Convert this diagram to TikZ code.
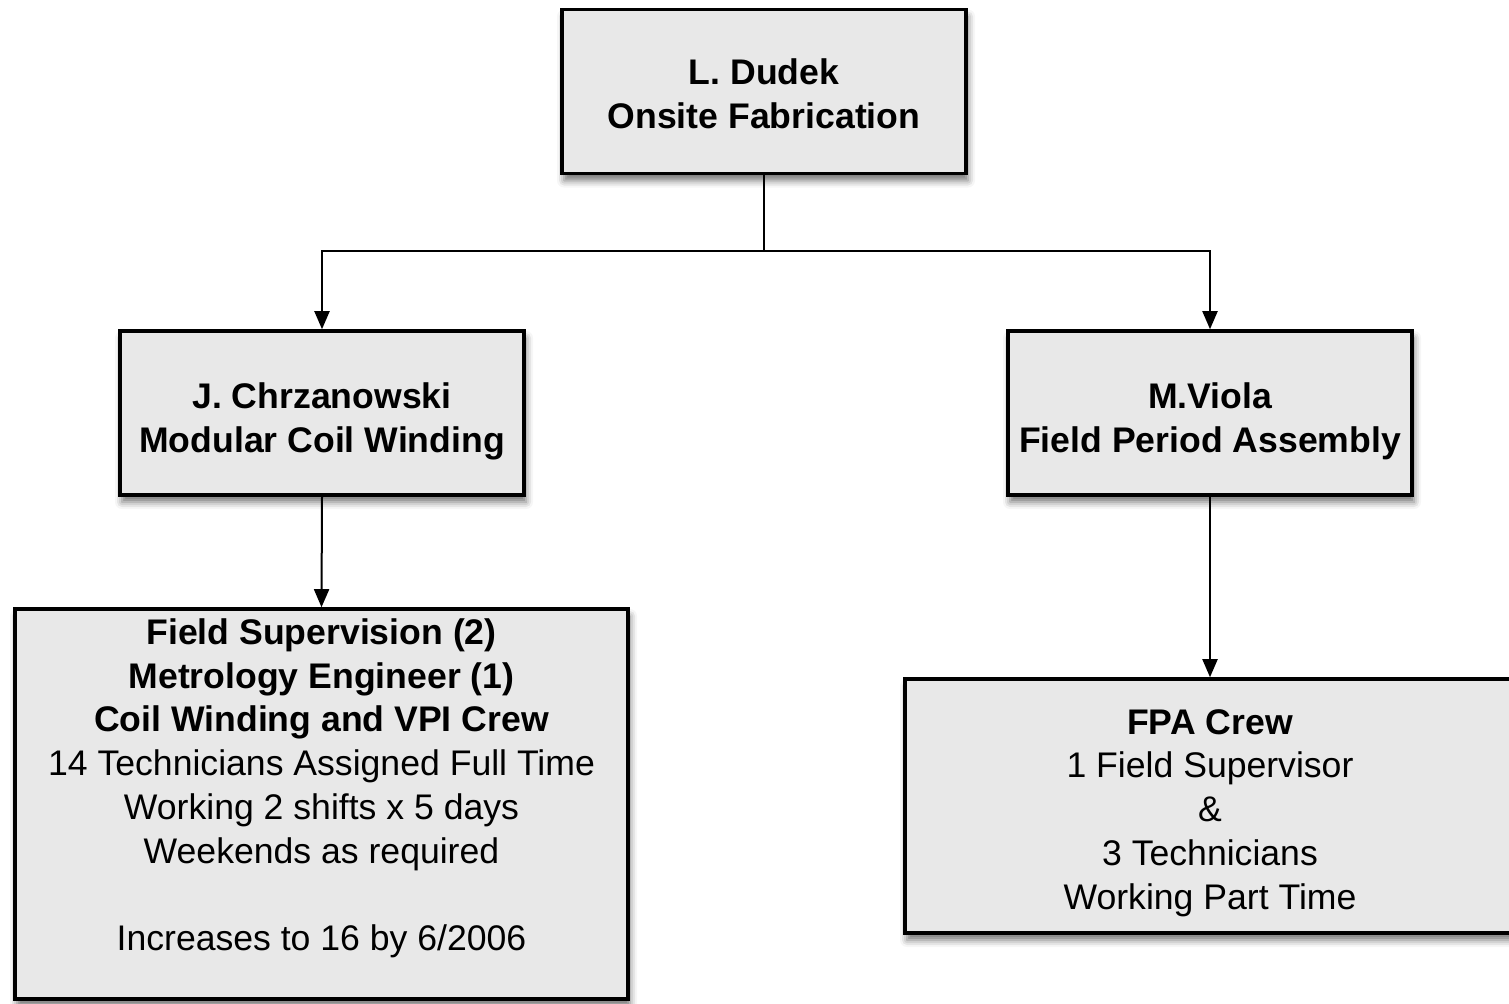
\documentclass[tikz,border=0pt]{standalone}
\usepackage{fontspec}
\setmainfont{Liberation Sans}
\usetikzlibrary{arrows.meta,shadows.blur}
\definecolor{boxgray}{HTML}{E8E8E8}
\tikzset{
  box/.style={draw=black, line width=1.8pt, fill=boxgray,
    blur shadow={shadow xshift=1pt, shadow yshift=-3.5pt, shadow blur radius=3.5pt, shadow opacity=55},
    inner sep=0pt},
  lbl/.style={align=center, inner sep=0pt, font=\fontsize{17.8pt}{21.9pt}\selectfont},
  conn/.style={draw=black, line width=1pt, -{Triangle[length=9pt,width=7.5pt]}},
  plain/.style={draw=black, line width=1pt}
}
\begin{document}
\begin{tikzpicture}[x=0.5pt,y=-0.5pt]
\useasboundingbox (0,0) rectangle (1509,1003);
\clip (0,0) rectangle (1509,1003);
\node[box, minimum width=202pt, minimum height=82pt,
  label={[lbl, font=\fontsize{17.8pt}{21.9pt}\selectfont\bfseries, yshift=-1.25pt]center:{L. Dudek\\ Onsite Fabrication}}] (top) at (764,91.5) {};
\node[box, minimum width=202pt, minimum height=82pt,
  label={[lbl, font=\fontsize{17.8pt}{21.9pt}\selectfont\bfseries, yshift=-4pt]center:{J. Chrzanowski\\ Modular Coil Winding}}] (jc) at (322,413) {};
\node[box, minimum width=202pt, minimum height=82pt,
  label={[lbl, font=\fontsize{17.8pt}{21.9pt}\selectfont\bfseries, yshift=-4pt]center:{M.Viola\\ Field Period Assembly}}] (mv) at (1210,413) {};
\node[box, minimum width=306.5pt, minimum height=195pt,
  label={[lbl, yshift=-1.25pt]center:{\textbf{Field Supervision (2)}\\ \textbf{Metrology Engineer (1)}\\ \textbf{Coil Winding and VPI Crew}\\
   14 Technicians Assigned Full Time\\ Working 2 shifts x 5 days\\ Weekends as required\\ ~\\
   Increases to 16 by 6/2006\\ ~}}] (bl) at (321.5,804) {};
\node[box, minimum width=305pt, minimum height=127pt,
  label={[lbl, yshift=-3.5pt]center:{\textbf{FPA Crew}\\ 1 Field Supervisor\\ \&\\ 3 Technicians\\ Working Part Time}}] (br) at (1210,806) {};
\coordinate (split) at (764,251);
\draw[plain] (top.south) -- (split);
\draw[conn] (split) -| (jc.north);
\draw[conn] (split) -| (mv.north);
\draw[conn] (jc.south) -- (bl.north);
\draw[conn] (mv.south) -- (br.north);
\end{tikzpicture}
\end{document}
